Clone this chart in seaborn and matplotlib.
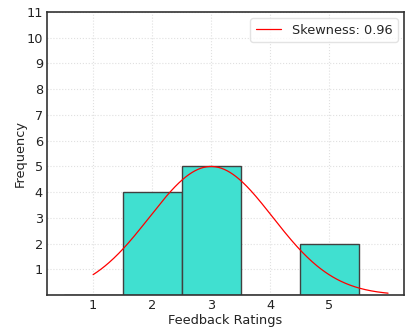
import numpy as np
import pandas as pd
import matplotlib
matplotlib.use("Agg")
import matplotlib.pyplot as plt
import seaborn as sns

ratings = [1, 2, 3, 4, 5]
counts = [0, 4, 5, 0, 2]
skew_label = "Skewness: 0.96"

sns.set_style("white")
plt.rcParams['font.family'] = ['DejaVu Sans']

df = pd.DataFrame({"Rating": ratings, "Count": counts})
values = np.repeat(ratings, counts)

fig, ax = plt.subplots(figsize=(4.06, 3.31), dpi=100)
fig.subplots_adjust(left=0.116, right=0.995, top=0.964, bottom=0.108)

sns.histplot(data=df, x="Rating", weights="Count", discrete=True,
             color="turquoise", edgecolor="#404040", linewidth=1.0,
             alpha=1.0, ax=ax, zorder=2)

mu = values.mean()
sd = values.std()
xs = np.linspace(1, 6, 300)
pdf = np.exp(-0.5 * ((xs - mu) / sd) ** 2)
pdf = pdf / pdf.max() * max(counts)
sns.lineplot(x=xs, y=pdf, color="red", linewidth=0.9, ax=ax,
             label=skew_label, zorder=3)

ax.set_xlim(0.22, 6.27)
ax.set_ylim(0, 11)
ax.set_xticks([1, 2, 3, 4, 5])
ax.set_yticks(range(1, 12))
ax.tick_params(axis="both", length=0, labelsize=9.3, pad=3, colors="#222222")
ax.grid(True, color="#e0e0e0", linestyle=":", linewidth=0.8, zorder=0)
ax.set_axisbelow(True)
for s in ax.spines.values():
    s.set_color("#333333")
    s.set_linewidth(1.2)
ax.set_xlabel("Feedback Ratings", fontsize=9.3, color="#222222", labelpad=1)
ax.set_ylabel("Frequency", fontsize=9.3, color="#222222", labelpad=0)
leg = ax.legend(loc="upper right", fontsize=9.3, frameon=True)
leg.get_frame().set_edgecolor("#dddddd")

fig.savefig("out.png", dpi=100)
